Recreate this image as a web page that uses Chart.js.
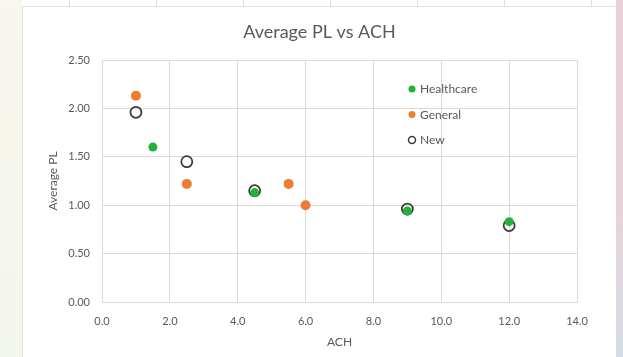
<!DOCTYPE html>
<html lang="en">
<head>
  <meta charset="UTF-8" />
  <title>Average PL vs ACH</title>
  <script src="https://cdn.jsdelivr.net/npm/chart.js"></script>
  <style>
    html, body { margin: 0; padding: 0; }
    body {
      width: 623px;
      height: 357px;
      overflow: hidden;
      position: relative;
      background: linear-gradient(to bottom, #f8f6ee, #f3f6ec);
      font-family: 'Lato', sans-serif;
    }
    .sheet-top {
      position: absolute;
      left: 22px; top: 0; width: 594px; height: 6px;
      background: repeating-linear-gradient(to right, #fff 0, #fff 47px, #dcdcdc 47px, #dcdcdc 48px, #fff 48px, #fff 87px);
    }
    .edge {
      position: absolute;
      left: 616px; top: 0; width: 7px; height: 357px;
      background: linear-gradient(to bottom, #eccfdc, #e8d3d9 60%, #d4dce8);
    }
    .box {
      position: absolute;
      left: 22px; top: 6px; width: 594px; height: 351px;
      background: #fff;
      border-left: 1px solid #e2e2e2;
      border-top: 1px solid #e2e2e2;
      box-sizing: border-box;
    }
  </style>
</head>
<body>
  <div class="sheet-top"></div>
  <div class="edge"></div>
  <div class="box"><canvas id="chart"></canvas></div>

  <script>
    // values
    const healthcareACH = [1.5, 4.5, 9.0, 12.0];
    const healthcarePL  = [1.60, 1.13, 0.94, 0.83];

    const generalACH = [1.0, 2.5, 5.5, 6.0];
    const generalPL  = [2.13, 1.22, 1.22, 1.00];

    const newACH = [1.0, 2.5, 4.5, 9.0, 12.0];
    const newPL  = [1.96, 1.45, 1.15, 0.96, 0.79];

    const seriesNames = ['Healthcare', 'General', 'New'];

    const pts = (xs, ys) => xs.map((x, i) => ({ x: x, y: ys[i] }));

    // legend drawn inside the plot area, like the Excel one
    const innerLegend = {
      id: 'innerLegend',
      afterDraw(chart) {
        const ctx = chart.ctx;
        const area = chart.chartArea;
        ctx.save();
        ctx.font = '12px Lato';
        ctx.textBaseline = 'middle';
        ctx.fillStyle = '#595959';
        chart.data.datasets.forEach((ds, i) => {
          const x = area.left + 310;
          const y = area.top + 29 + i * 25.5;
          ctx.beginPath();
          ctx.arc(x, y, 3.5, 0, Math.PI * 2);
          if (ds.pointBackgroundColor !== 'transparent') {
            ctx.fillStyle = ds.pointBackgroundColor;
            ctx.fill();
          } else {
            ctx.lineWidth = 1.5;
            ctx.strokeStyle = ds.pointBorderColor;
            ctx.stroke();
          }
          ctx.fillStyle = '#595959';
          ctx.fillText(ds.label, x + 8, y + 0.5);
        });
        ctx.restore();
      }
    };

    new Chart(document.getElementById('chart'), {
      type: 'scatter',
      data: {
        datasets: [
          {
            label: seriesNames[0],
            data: pts(healthcareACH, healthcarePL),
            pointBackgroundColor: '#20b23b',
            pointBorderColor: '#20b23b',
            pointRadius: 4.5,
            pointBorderWidth: 0
          },
          {
            label: seriesNames[1],
            data: pts(generalACH, generalPL),
            pointBackgroundColor: '#ed7d31',
            pointBorderColor: '#ed7d31',
            pointRadius: 5,
            pointBorderWidth: 0
          },
          {
            label: seriesNames[2],
            data: pts(newACH, newPL),
            pointBackgroundColor: 'transparent',
            pointBorderColor: '#3a3a3a',
            pointRadius: 5.5,
            pointBorderWidth: 1.75
          }
        ]
      },
      options: {
        responsive: true,
        maintainAspectRatio: false,
        animation: false,
        layout: { padding: 0 },
        plugins: {
          legend: { display: false },
          tooltip: { enabled: false },
          title: {
            display: true,
            text: 'Average PL vs ACH',
            color: '#595959',
            font: { family: 'Lato', size: 18, weight: 'normal' },
            padding: { top: 14, bottom: 17.4 }
          }
        },
        scales: {
          x: {
            type: 'linear',
            min: 0,
            max: 14,
            afterFit(scale) { scale.height = 55; },
            grid: { color: '#d9d9d9', drawTicks: false },
            border: { color: '#d9d9d9' },
            ticks: {
              stepSize: 2,
              padding: 13,
              color: '#595959',
              font: { family: 'Lato', size: 11 },
              callback: v => v.toFixed(1)
            },
            title: {
              display: true,
              text: 'ACH',
              color: '#595959',
              font: { family: 'Lato', size: 12 },
              padding: { top: 0, bottom: 8 }
            }
          },
          y: {
            min: 0,
            max: 2.5,
            afterFit(scale) { scale.width = 79; },
            grid: { color: '#d9d9d9', drawTicks: false },
            border: { color: '#d9d9d9' },
            ticks: {
              stepSize: 0.5,
              padding: 12,
              color: '#595959',
              font: { family: 'Lato', size: 11 },
              callback: v => v.toFixed(2)
            },
            title: {
              display: true,
              text: 'Average PL',
              color: '#595959',
              font: { family: 'Lato', size: 12 },
              padding: { top: 23, bottom: 0 }
            }
          },
          // empty right-hand margin so the title centres on the whole box
          yRight: {
            position: 'right',
            min: 0,
            max: 2.5,
            afterFit(scale) { scale.width = 39; },
            grid: { display: false, drawTicks: false },
            border: { display: false },
            ticks: { display: false }
          }
        }
      },
      plugins: [innerLegend]
    });
  </script>
</body>
</html>
